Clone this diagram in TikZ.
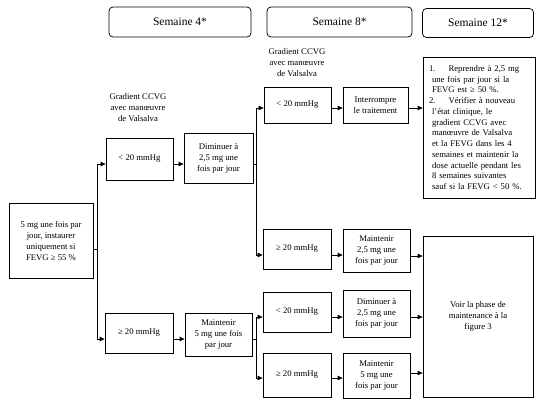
\documentclass[tikz,border=0pt]{standalone}
\usepackage{fontspec}
\setmainfont{Liberation Serif}
\usetikzlibrary{arrows.meta}
\begin{document}
\begin{tikzpicture}[x=1pt,y=-1pt,
  box/.style={draw, line width=0.75pt, align=center, font=\fontsize{8.7}{11}\selectfont, inner sep=1pt},
  head/.style={draw, rounded corners=4pt, line width=0.75pt, font=\fontsize{11.5}{13}\selectfont},
  lbl/.style={align=center, font=\fontsize{8.7}{11}\selectfont, inner sep=0pt},
  arr/.style={-{Triangle[length=5pt,width=4.5pt]}, line width=0.75pt},
  ln/.style={line width=0.75pt}]
\fill[white] (0,0) rectangle (537,400);
\useasboundingbox (0,0) rectangle (537,400);
% headers
\node[head, minimum width=142pt, minimum height=30pt] (h4) at (180,22) {Semaine 4*};
\node[head, minimum width=145pt, minimum height=30pt] (h8) at (339.5,22) {Semaine 8*};
\node[head, minimum width=111pt, minimum height=29pt] (h12) at (478,23) {Semaine 12*};
% labels
\node[lbl] (l4) at (138,107.5) {Gradient CCVG\\avec manœuvre\\de Valsalva};
\node[lbl] (l8) at (297,63) {Gradient CCVG\\avec manœuvre\\de Valsalva};
% boxes
\node[box, minimum width=84pt, minimum height=75pt] (s) at (51,240.5) {5 mg une fois par\\jour, instaurer\\uniquement si\\FEVG ≥ 55 \%};
\node[box, minimum width=67pt, minimum height=42pt] (w4a) at (139.5,159) {< 20 mmHg};
\node[box, minimum width=69pt, minimum height=50pt] (w4d) at (218.5,158) {Diminuer à\\2,5 mg une\\fois par jour};
\node[box, minimum width=68pt, minimum height=40pt] (w4b) at (139,333) {≥ 20 mmHg};
\node[box, minimum width=67pt, minimum height=43pt] (w4m) at (218.5,334.5) {Maintenir\\5 mg une fois\\par jour};
\node[box, minimum width=67pt, minimum height=36pt] (w8a) at (297.5,105) {< 20 mmHg};
\node[box, minimum width=65pt, minimum height=36pt] (w8i) at (375.5,105) {Interrompre\\le traitement};
\node[box, minimum width=68pt, minimum height=40pt] (w8b) at (297,249) {≥ 20 mmHg};
\node[box, minimum width=67pt, minimum height=43pt] (w8m) at (376.5,250.5) {Maintenir\\2,5 mg une\\fois par jour};
\node[box, minimum width=68pt, minimum height=40pt] (w8c) at (297,312) {< 20 mmHg};
\node[box, minimum width=67pt, minimum height=47pt] (w8d) at (376.5,313.5) {Diminuer à\\2,5 mg une\\fois par jour};
\node[box, minimum width=68pt, minimum height=44pt] (w8e) at (297,375) {≥ 20 mmHg};
\node[box, minimum width=67pt, minimum height=45pt] (w8f) at (376.5,375.5) {Maintenir\\5 mg une\\fois par jour};
\node[box, minimum width=110pt, minimum height=161pt] (big) at (478,316.5) {Voir la phase de\\maintenance à la\\figure 3};
\node[box, align=left, text width=100pt, inner xsep=6pt, minimum height=141pt,
      font=\fontsize{8.7}{10.75}\selectfont] (txt) at (479,127.5)
  {1.\hspace*{13pt}Reprendre à 2,5 mg\\
   \hspace*{3pt}une fois par jour si la\\
   \hspace*{3pt}FEVG est ≥ 50 \%.\\
   2.\hspace*{13pt}Vérifier à nouveau\\
   \hspace*{3pt}l'état clinique, le\\
   \hspace*{3pt}gradient CCVG avec\\
   \hspace*{3pt}manœuvre de Valsalva\\
   \hspace*{3pt}et la FEVG dans les 4\\
   \hspace*{3pt}semaines et maintenir la\\
   \hspace*{3pt}dose actuelle pendant les\\
   \hspace*{3pt}8 semaines suivantes\\
   \hspace*{3pt}sauf si la FEVG < 50 \%.};
% junction coordinates
\coordinate (j1t) at (97,164);
\coordinate (j1m) at (97,249);
\coordinate (j1b) at (97,339);
\coordinate (j2t) at (256,108);
\coordinate (j2m) at (256,164);
\coordinate (j2b) at (256,255);
\coordinate (j3t) at (256,317);
\coordinate (j3m) at (256,339);
\coordinate (j3b) at (256,378);
\coordinate (r2) at (0,256);
\coordinate (r4) at (0,373);
% connectors week 4
\draw[ln] (s.east |- j1m) -- (j1m);
\draw[ln] (j1t) -- (j1b);
\draw[arr] (j1t) -- (j1t -| w4a.west);
\draw[arr] (j1b) -- (j1b -| w4b.west);
\draw[arr] (w4a.east |- j1t) -- (w4d.west |- j1t);
\draw[arr] (w4b.east |- j1b) -- (w4m.west |- j1b);
% connectors week 8 upper
\draw[ln] (w4d.east |- j2m) -- (j2m);
\draw[ln] (j2t) -- (j2b);
\draw[arr] (j2t) -- (j2t -| w8a.west);
\draw[arr] (j2b) -- (j2b -| w8b.west);
\draw[arr] (w8a.east |- j2t) -- (w8i.west |- j2t);
\draw[arr] (w8i.east |- j2t) -- (txt.west |- j2t);
\draw[arr] (w8b.east |- j2b) -- (w8m.west |- j2b);
\draw[arr] (w8m.east |- r2) -- (big.west |- r2);
% connectors week 8 lower
\draw[ln] (w4m.east |- j3m) -- (j3m);
\draw[ln] (j3t) -- (j3b);
\draw[arr] (j3t) -- (j3t -| w8c.west);
\draw[arr] (j3b) -- (j3b -| w8e.west);
\draw[arr] (w8c.east |- j3t) -- (w8d.west |- j3t);
\draw[arr] (w8d.east |- j3t) -- (big.west |- j3t);
\draw[arr] (w8e.east |- j3b) -- (w8f.west |- j3b);
\draw[arr] (w8f.east |- r4) -- (big.west |- r4);
\end{tikzpicture}
\end{document}
